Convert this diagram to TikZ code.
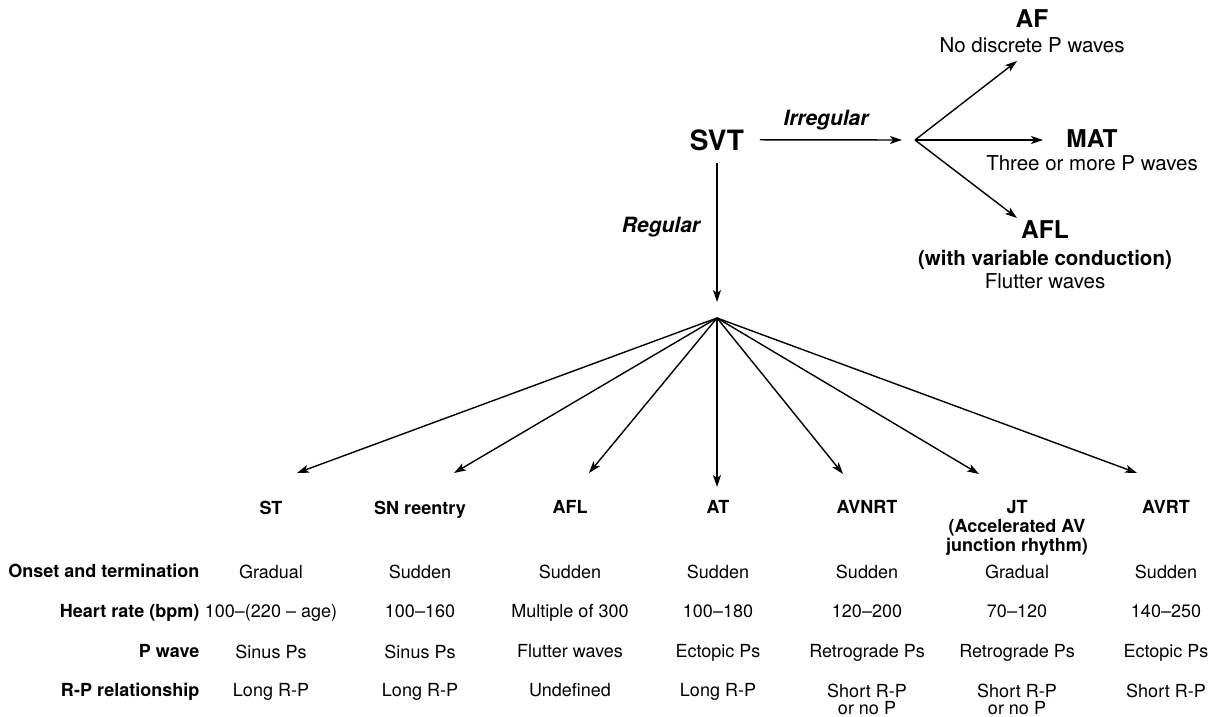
\documentclass[tikz,border=0pt]{standalone}
\usepackage{fontspec}
\setmainfont{TeX Gyre Heros}
\usetikzlibrary{arrows.meta}

\begin{document}
\begin{tikzpicture}[x=1pt,y=-1pt,>={Stealth[length=12pt,width=8pt,inset=3pt]},line width=1.4pt,
  every node/.style={inner sep=0pt},
  big/.style={font=\bfseries\fontsize{24.5}{26}\selectfont,anchor=base},
  desc/.style={font=\fontsize{20.5}{23}\selectfont,anchor=base},
  descb/.style={font=\bfseries\fontsize{20.5}{23}\selectfont,anchor=base},
  lbl/.style={font=\bfseries\itshape\fontsize{21}{24}\selectfont,anchor=base},
  colhd/.style={font=\bfseries\fontsize{18}{19}\selectfont,align=center,anchor=north},
  cell/.style={font=\fontsize{18}{17.5}\selectfont,align=center,anchor=north},
  rowhd/.style={font=\bfseries\fontsize{18}{19}\selectfont,anchor=base east}]
  \useasboundingbox (0,0) rectangle (1221,717);
  % top of the tree
  \node[font=\bfseries\fontsize{28}{30}\selectfont,inner xsep=15pt,inner ysep=12pt,anchor=base] (svt) at (717,150) {SVT};
  \coordinate (irr) at (915,140);
  \coordinate (reg) at (717,318);
  \draw[->,shorten >=13pt] (svt.east) -- (irr);
  \draw[->,shorten >=16pt] (svt.south) -- (reg);
  \node[lbl] (irrlbl) at (826,125) {Irregular};
  \node[lbl] (reglbl) at (661,232) {Regular};
  % irregular branch
  \coordinate (tip-af) at (1017,61);
  \coordinate (tip-mat) at (1043,140);
  \coordinate (tip-afl) at (1017,218);
  \foreach \t in {af,mat,afl} \draw[->] (irr) -- (tip-\t);
  \node[big] (af) at (1032,28) {AF};
  \node[desc] (afd) at (1032,53) {No discrete P waves};
  \node[big] (mat) at (1092,147) {MAT};
  \node[desc] (matd) at (1092,170) {Three or more P waves};
  \node[big] (afl) at (1045,238) {AFL};
  \node[descb] (aflv) at (1045,265) {(with variable conduction)};
  \node[desc] (afld) at (1045,288) {Flutter waves};
  % table rows
  \node[rowhd] (row1) at (200,577) {Onset and termination};
  \node[rowhd] (row2) at (200,617) {Heart rate (bpm)};
  \node[rowhd] (row3) at (200,657) {P wave};
  \node[rowhd] (row4) at (200,696) {R-P relationship};
  % regular branch, one column each
  \foreach \cx/\nm/\tx/\ty/\hd/\on/\hr/\pw/\rp in {
    271/st/297/473/ST/Gradual/100–(220 – age)/Sinus Ps/Long R-P,
    420/snr/454/473/SN reentry/Sudden/100–160/Sinus Ps/Long R-P,
    570/afl/589/473/AFL/Sudden/Multiple of 300/Flutter waves/Undefined,
    718/at/717/487/AT/Sudden/100–180/Ectopic Ps/Long R-P,
    867/avnrt/843/474/AVNRT/Sudden/120–200/Retrograde Ps/{Short R-P\\or no P},
    1017/jt/979/474/{JT\\(Accelerated AV\\junction rhythm)}/Gradual/70–120/Retrograde Ps/{Short R-P\\or no P},
    1166/avrt/1137/473/AVRT/Sudden/140–250/Ectopic Ps/Short R-P}{
    \coordinate (tip-\nm) at (\tx,\ty);
    \draw[->] (reg) -- (tip-\nm);
    \node[colhd] (hd-\nm) at (\cx,500) {\hd};
    \node[cell] (on-\nm) at (\cx,564) {\on};
    \node[cell] (hr-\nm) at (\cx,604) {\hr};
    \node[cell] (pw-\nm) at (\cx,644) {\pw};
    \node[cell] (rp-\nm) at (\cx,683) {\rp};
  }
\end{tikzpicture}
\end{document}
